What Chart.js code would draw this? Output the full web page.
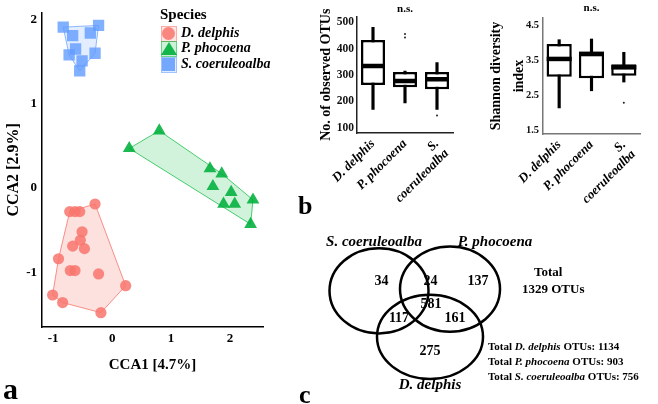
<!DOCTYPE html>
<html>
<head>
<meta charset="utf-8">
<script src="https://cdn.jsdelivr.net/npm/chart.js@4.4.1/dist/chart.umd.min.js"></script>
<style>
  body { margin: 0; width: 658px; height: 404px; background: #fff; position: relative; overflow: hidden; font-family: "Liberation Serif", serif; }
  .pane { position: absolute; }
  canvas { display: block; }
  .txt { position: absolute; font-weight: bold; color: #000; white-space: nowrap; line-height: 1; }
  .key { position: absolute; width: 14px; height: 14px; }
  .mk { position: absolute; }
</style>
</head>
<body>
<div class="pane" style="left:0;top:0;width:290px;height:380px"><canvas id="cca" width="290" height="380"></canvas></div>
<div class="pane" style="left:300px;top:0;width:180px;height:215px"><canvas id="otus" width="180" height="215"></canvas></div>
<div class="pane" style="left:480px;top:0;width:178px;height:215px"><canvas id="shannon" width="178" height="215"></canvas></div>
<div class="pane" style="left:300px;top:215px;width:358px;height:189px"><canvas id="venn" width="358" height="189"></canvas></div>

<!-- legend of panel a -->
<div class="txt" style="left:160px;top:7px;font-size:15px">Species</div>
<div class="key" style="left:161px;top:26px;background:rgba(248,118,109,0.2);border:1px solid rgba(248,118,109,0.5)"></div>
<div class="mk" style="left:162px;top:27px;width:13px;height:13px;border-radius:50%;background:rgba(248,118,109,0.85)"></div>
<div class="txt" style="left:181px;top:26px;font-size:14px;font-style:italic">D. delphis</div>
<div class="key" style="left:161px;top:41px;background:rgba(0,186,56,0.2);border:1px solid rgba(0,186,56,0.5)"></div>
<div class="mk" style="left:161px;top:42px;width:16px;height:13px;background:rgba(0,175,60,0.9);clip-path:polygon(50% 0,100% 100%,0 100%)"></div>
<div class="txt" style="left:181px;top:41px;font-size:14px;font-style:italic">P. phocoena</div>
<div class="key" style="left:161px;top:57px;background:rgba(97,156,255,0.2);border:1px solid rgba(97,156,255,0.5)"></div>
<div class="mk" style="left:162px;top:58px;width:13px;height:13px;background:rgba(97,156,255,0.85)"></div>
<div class="txt" style="left:181px;top:57px;font-size:14px;font-style:italic">S. coeruleoalba</div>

<!-- panel letters -->
<div class="txt" style="left:3px;top:374px;font-size:30px">a</div>
<div class="txt" style="left:298px;top:193px;font-size:26px">b</div>
<div class="txt" style="left:299px;top:382px;font-size:26px">c</div>

<!-- totals of panel c -->
<div class="txt" style="left:534px;top:265px;font-size:13px">Total</div>
<div class="txt" style="left:522px;top:282px;font-size:13px">1329 OTUs</div>
<div class="txt" style="left:488px;top:341px;font-size:11px">Total <i>D. delphis</i> OTUs: 1134</div>
<div class="txt" style="left:488px;top:356px;font-size:11px">Total <i>P. phocoena</i> OTUs: 903</div>
<div class="txt" style="left:488px;top:371px;font-size:11px">Total <i>S. coeruleoalba</i> OTUs: 756</div>

<script>
// ---- data ----
const speciesNames = ["D. delphis", "P. phocoena", "S. coeruleoalba"];

// CCA scores
const ddX = [-0.29, -0.72, -0.63, -0.55, -0.51, -0.54, -0.67, -0.47, -0.91, -0.71, -0.63, -0.23, 0.23, -1.01, -0.84, -0.19];
const ddY = [-0.19, -0.28, -0.28, -0.28, -0.52, -0.62, -0.69, -0.72, -0.84, -0.98, -0.98, -1.02, -1.16, -1.27, -1.36, -1.48];
const ppX = [0.29, 0.80, 1.66, 1.86, 1.71, 2.02, 1.89, 2.08, 2.39, 2.35];
const ppY = [0.47, 0.68, 0.23, 0.17, 0.02, -0.05, -0.19, -0.19, -0.14, -0.43];
const scX = [-0.83, -0.67, -0.23, -0.37, -0.62, -0.73, -0.29, -0.51, -0.55];
const scY = [1.91, 1.81, 1.93, 1.84, 1.65, 1.58, 1.60, 1.51, 1.39];
const ccaTicks = [-1, 0, 1, 2];

// boxplot stats (D. delphis, P. phocoena, S. coeruleoalba)
const otuMin = [170, 195, 170];
const otuQ1 = [262, 254, 246];
const otuMed = [334, 277, 284];
const otuQ3 = [432, 311, 311];
const otuMax = [480, 315, 347];
const otuOutCat = ["P. phocoena", "P. phocoena", "S. coeruleoalba"];
const otuOutVal = [455, 442, 147];
const otuTicks = [100, 200, 300, 400, 500];

const shanMin = [2.13, 2.62, 2.87];
const shanQ1 = [3.02, 2.98, 3.05];
const shanMed = [3.53, 3.67, 3.29];
const shanQ3 = [3.96, 3.74, 3.38];
const shanMax = [4.08, 4.10, 3.72];
const shanOutCat = ["S. coeruleoalba"];
const shanOutVal = [2.28];
const shanTicks = [1.5, 2.5, 3.5, 4.5];

// venn counts: S only, S&P, P only, S&D, all, P&D, D only
const vennCounts = [34, 24, 137, 117, 581, 161, 275];
const vennSets = ["S. coeruleoalba", "P. phocoena", "D. delphis"];

// venn layout (abstract units, not data)
const vennLayout = {
  setX: [-0.98, 0.44, 0.04], setY: [0.33, 0.37, -0.74],
  setRx: [0.99, 1.0, 1.06], setRy: [0.99, 0.99, 0.98],
  nameX: [-1.08, 1.34, 0.04], nameY: [1.47, 1.47, -1.86],
  countX: [-0.93, 0.05, 1.0, -0.58, 0.06, 0.54, 0.04],
  countY: [0.54, 0.54, 0.54, -0.31, 0.02, -0.31, -1.09]
};

const SERIF = "'Liberation Serif', 'Times New Roman', serif";

function toPts(xs, ys) {
  return xs.map((v, i) => ({ x: v, y: ys[i] }));
}

// convex hull (monotone chain)
function hull(pts) {
  const p = pts.slice().sort((a, b) => a.x - b.x || a.y - b.y);
  const cross = (o, a, b) => (a.x - o.x) * (b.y - o.y) - (a.y - o.y) * (b.x - o.x);
  const lo = [], up = [];
  for (const q of p) {
    while (lo.length >= 2 && cross(lo[lo.length - 2], lo[lo.length - 1], q) <= 0) lo.pop();
    lo.push(q);
  }
  for (let i = p.length - 1; i >= 0; i--) {
    const q = p[i];
    while (up.length >= 2 && cross(up[up.length - 2], up[up.length - 1], q) <= 0) up.pop();
    up.push(q);
  }
  lo.pop(); up.pop();
  return lo.concat(up);
}

const hullPlugin = {
  id: "hulls",
  beforeDatasetsDraw(chart) {
    const { ctx, scales: { x, y } } = chart;
    chart.data.datasets.forEach(ds => {
      const h = hull(ds.data);
      ctx.save();
      ctx.beginPath();
      h.forEach((p, i) => {
        const px = x.getPixelForValue(p.x), py = y.getPixelForValue(p.y);
        if (i) ctx.lineTo(px, py); else ctx.moveTo(px, py);
      });
      ctx.closePath();
      ctx.fillStyle = ds.hullFill;
      ctx.fill();
      ctx.strokeStyle = ds.hullLine;
      ctx.lineWidth = 1;
      ctx.stroke();
      ctx.restore();
    });
  }
};

// ---- panel a ----
new Chart(document.getElementById("cca"), {
  type: "scatter",
  data: {
    datasets: [
      { label: speciesNames[0], data: toPts(ddX, ddY), pointStyle: "circle", pointRadius: 5.6,
        backgroundColor: "rgba(248,118,109,0.85)", borderWidth: 0,
        hullFill: "rgba(248,118,109,0.22)", hullLine: "rgba(248,118,109,0.8)" },
      { label: speciesNames[1], data: toPts(ppX, ppY), pointStyle: "triangle", pointRadius: 7.4,
        backgroundColor: "rgba(0,175,60,0.88)", borderWidth: 0,
        hullFill: "rgba(0,186,56,0.18)", hullLine: "rgba(0,186,56,0.7)" },
      { label: speciesNames[2], data: toPts(scX, scY), pointStyle: "rect", pointRadius: 8,
        backgroundColor: "rgba(97,156,255,0.8)", borderWidth: 0,
        hullFill: "rgba(97,156,255,0.18)", hullLine: "rgba(97,156,255,0.7)" }
    ]
  },
  options: {
    responsive: false,
    animation: false,
    layout: { padding: { top: 6, right: 27, left: 0, bottom: 0 } },
    plugins: { legend: { display: false }, tooltip: { enabled: false } },
    scales: {
      x: {
        min: -1.19, max: 2.56,
        grid: { display: false, drawTicks: false },
        border: { color: "#000", width: 1.5 },
        afterBuildTicks: s => { s.ticks = ccaTicks.map(v => ({ value: v })); },
        afterFit: s => { s.height = 53; },
        ticks: { color: "#000", padding: 4, font: { family: SERIF, weight: "bold", size: 13 } },
        title: { display: true, text: "CCA1 [4.7%]", color: "#000", padding: { bottom: 6 },
                 font: { family: SERIF, weight: "bold", size: 15 } }
      },
      y: {
        min: -1.65, max: 2.08,
        grid: { display: false, drawTicks: false },
        border: { color: "#000", width: 1.5 },
        afterBuildTicks: s => { s.ticks = ccaTicks.map(v => ({ value: v })); },
        afterFit: s => { s.width = 42; },
        ticks: { color: "#000", padding: 5, font: { family: SERIF, weight: "bold", size: 13 } },
        title: { display: true, text: "CCA2 [2.9%]", color: "#000", padding: { top: 4 },
                 font: { family: SERIF, weight: "bold", size: 16 } }
      }
    }
  },
  plugins: [hullPlugin]
});

// ---- panel b ----
function boxChart(id, s) {
  const italicLbl = function (value) {
    const l = this.getLabelForValue(value);
    return l === "S. coeruleoalba" ? ["S.", "coeruleoalba"] : l;
  };
  return new Chart(document.getElementById(id), {
    type: "bar",
    data: {
      labels: speciesNames,
      datasets: [
        { data: s.min.map((v, i) => [v, s.max[i]]), backgroundColor: "#000", barThickness: 2.5,
          grouped: false, order: 4 },
        { data: s.q1.map((v, i) => [v, s.q3[i]]), backgroundColor: "#fff", borderColor: "#000",
          borderWidth: 2.5, borderSkipped: false, barPercentage: s.boxPct, categoryPercentage: 1,
          grouped: false, order: 3 },
        { type: "line", data: s.med, showLine: false, pointStyle: "line", pointRadius: s.boxW / 2,
          pointBorderWidth: 4.5, pointBorderColor: "#000", order: 2 },
        { type: "line", data: s.outCat.map((c, i) => ({ x: c, y: s.outVal[i] })), showLine: false,
          pointRadius: 1, pointBackgroundColor: "#222", pointBorderWidth: 0, order: 1 }
      ]
    },
    options: {
      responsive: false,
      animation: false,
      layout: { padding: { top: 0, right: s.padRight, left: 0, bottom: 0 } },
      plugins: {
        legend: { display: false }, tooltip: { enabled: false },
        title: { display: true, text: "n.s.", fullSize: false, color: "#000",
                 padding: { top: s.nsTop, bottom: s.nsBottom },
                 font: { family: SERIF, weight: "bold", size: 11 } }
      },
      scales: {
        x: {
          grid: { display: false, drawTicks: false },
          border: { color: s.axisColor, width: 1.5 },
          afterFit: sc => { sc.height = s.xHeight; },
          ticks: { color: "#000", autoSkip: false, minRotation: 45, maxRotation: 45, padding: 4,
                   callback: italicLbl,
                   font: { family: SERIF, weight: "bold", style: "italic", size: 13, lineHeight: 1.05 } }
        },
        y: {
          min: s.yMin, max: s.yMax,
          grid: { display: false, drawTicks: false },
          border: { color: s.axisColor, width: 1.5 },
          afterBuildTicks: sc => { sc.ticks = s.ticks.map(v => ({ value: v })); },
          afterFit: sc => { sc.width = s.yWidth; },
          ticks: { color: "#111", padding: s.tickPad, font: { family: SERIF, weight: "bold", size: s.tickSize } },
          title: { display: true, text: s.title, color: "#000", padding: { top: s.titlePad },
                   font: { family: SERIF, weight: "bold", size: 14, lineHeight: s.titleLh } }
        }
      }
    }
  });
}

boxChart("otus", {
  min: otuMin, q1: otuQ1, med: otuMed, q3: otuQ3, max: otuMax,
  outCat: otuOutCat, outVal: otuOutVal, ticks: otuTicks,
  yMin: 81, yMax: 521, boxPct: 0.75, boxW: 24,
  padRight: 27, xHeight: 82, yWidth: 57, nsTop: 2, nsBottom: 0.8,
  tickPad: 3, tickSize: 11.5, axisColor: "#222",
  title: "No. of observed OTUs", titlePad: 18, titleLh: 1.2
});

boxChart("shannon", {
  min: shanMin, q1: shanQ1, med: shanMed, q3: shanQ3, max: shanMax,
  outCat: shanOutCat, outVal: shanOutVal, ticks: shanTicks,
  yMin: 1.385, yMax: 4.70, boxPct: 0.78, boxW: 25,
  padRight: 18, xHeight: 81, yWidth: 63, nsTop: 2, nsBottom: 2.8,
  tickPad: 4, tickSize: 10.5, axisColor: "#777",
  title: ["Shannon diversity", "index"], titlePad: 5, titleLh: 1.65
});

// ---- panel c ----
const vennPlugin = {
  id: "venn",
  afterDatasetsDraw(chart) {
    const { ctx, scales: { x, y } } = chart;
    const L = vennLayout;
    ctx.save();
    ctx.lineWidth = 2.5;
    ctx.strokeStyle = "#000";
    for (let i = 0; i < vennSets.length; i++) {
      const cx = x.getPixelForValue(L.setX[i]), cy = y.getPixelForValue(L.setY[i]);
      const rx = x.getPixelForValue(L.setX[i] + L.setRx[i]) - cx;
      const ry = cy - y.getPixelForValue(L.setY[i] + L.setRy[i]);
      ctx.beginPath();
      ctx.ellipse(cx, cy, rx, ry, 0, 0, Math.PI * 2);
      ctx.stroke();
    }
    ctx.fillStyle = "#000";
    ctx.textAlign = "center";
    ctx.textBaseline = "middle";
    ctx.font = "bold 14px " + SERIF;
    vennCounts.forEach((c, i) => {
      ctx.fillText(String(c), x.getPixelForValue(L.countX[i]), y.getPixelForValue(L.countY[i]));
    });
    ctx.font = "italic bold 15px " + SERIF;
    vennSets.forEach((n, i) => {
      ctx.fillText(n, x.getPixelForValue(L.nameX[i]), y.getPixelForValue(L.nameY[i]));
    });
    ctx.restore();
  }
};

new Chart(document.getElementById("venn"), {
  type: "scatter",
  data: {
    datasets: [{ data: toPts(vennLayout.setX, vennLayout.setY), pointRadius: 0 }]
  },
  options: {
    responsive: false,
    animation: false,
    layout: { padding: 0 },
    plugins: { legend: { display: false }, tooltip: { enabled: false } },
    scales: {
      x: { display: false, min: -2.56, max: 4.6 },
      y: { display: false, min: -2.302, max: 2.093 }
    }
  },
  plugins: [vennPlugin]
});
</script>
</body>
</html>
